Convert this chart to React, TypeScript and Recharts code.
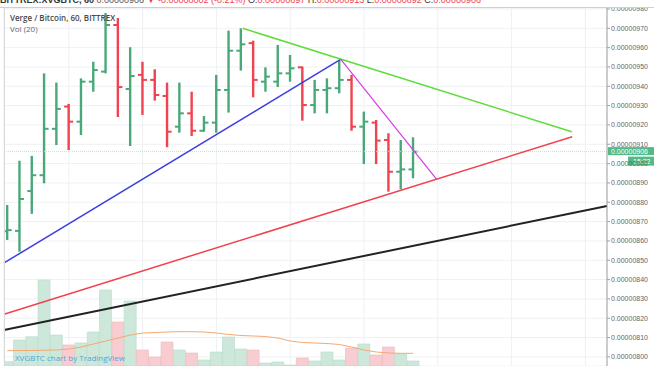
import React from 'react';
import {
  ComposedChart,
  Bar,
  Line,
  XAxis,
  YAxis,
  CartesianGrid,
  ReferenceLine,
  Cell,
} from 'recharts';

// hourly bars, prices in satoshi (1e-8 BTC)
const opens = [
  865.0, 865.2, 885.8, 894.0, 918.0, 929.5, 921.7, 942.4, 947.6, 971.7, 938.6, 945.9,
  943.3, 935.0, 919.1, 926.0, 917.0, 921.2, 938.1, 958.4, 962.3, 942.4, 942.4, 946.7,
  949.8, 930.3, 938.1, 939.0, 943.3, 919.1, 921.2, 912.2, 895.8, 897.0,
];
const highs = [
  878.6, 901.5, 904.0, 946.7, 941.9, 930.9, 944.1, 952.7, 977.9, 975.3, 960.2, 952.7,
  948.8, 941.9, 941.9, 937.2, 924.6, 945.9, 968.8, 970.0, 963.6, 949.8, 961.4, 956.2,
  950.2, 943.3, 944.1, 953.6, 945.9, 926.9, 922.6, 915.7, 912.2, 913.6,
];
const lows = [
  860.5, 854.4, 874.0, 889.8, 909.6, 907.0, 914.8, 937.2, 946.7, 924.1, 909.1, 925.2,
  932.6, 908.5, 916.0, 914.3, 916.5, 916.0, 926.4, 948.1, 934.3, 937.2, 939.6, 942.4,
  922.2, 926.0, 926.0, 936.4, 917.0, 899.8, 899.8, 885.5, 886.7, 892.4,
];
const closes = [
  865.6, 881.7, 894.0, 918.0, 928.3, 921.7, 942.4, 948.4, 971.7, 939.6, 945.3, 943.3,
  935.5, 916.5, 926.0, 917.0, 921.2, 938.1, 958.4, 961.7, 943.3, 945.0, 946.7, 949.3,
  930.3, 938.1, 939.0, 943.3, 919.1, 921.7, 911.9, 895.8, 897.0, 906.2,
];
// volume (relative units) and its 20-period average
const volumes = [
  4.3, 26, 29.3, 86, 31, 21, 23, 34, 76, 44, 65, 16, 9, 24, 16, 13, 6, 14, 29, 17, 16,
  3, 4, 1, 8, 5, 14, 6, 18, 22, 11, 19, 12, 5,
];
const volumeMa = [
  15.3, 15.5, 15.5, 15.8, 16, 17, 19, 22, 25, 28, 31, 33, 33.5, 34, 34.3, 34.3, 34, 33,
  31.5, 30.5, 30, 29.5, 28, 25, 23.5, 23, 22.5, 21.5, 19, 16, 14, 13, 12.7, 12.7,
];

const priceTicks = [800, 810, 820, 830, 840, 850, 860, 870, 880, 890, 900, 910, 920, 930, 940, 950, 960, 970, 980];
const hourTicks = [5, 11, 17, 23, 29, 35, 41, 47];
const lastPrice = 906.2;
const lastTime = '15:22';

// drawn trend lines: [bar index, price] pairs
const blueLine = [[-0.27, 848.6], [27.13, 954]];
const greenLine = [[19.14, 970], [45.89, 916.5]];
const magentaLine = [[27.1, 954], [34.91, 891.9]];
const redLine = [[-0.27, 822.1], [45.93, 913.9]];
const blackLine = [[-0.27, 813.9], [48.76, 878.1]];

const UP = '#4aa878';
const DOWN = '#f0424f';
const UP_VOL = '#cde8da';
const DOWN_VOL = '#f8cdd1';

const data = opens.map((o, i) => ({
  i,
  range: [lows[i], highs[i]],
  open: o,
  high: highs[i],
  low: lows[i],
  close: closes[i],
  vol: volumes[i],
  volMa: volumeMa[i],
}));

const fmt = (v: number) => (v / 1e8).toFixed(8);

const OhlcShape = (props: any) => {
  const { x, y, width, height, payload } = props;
  if (x == null || y == null || !payload) return null;
  const top = Math.min(y, y + height);
  const h = Math.abs(height);
  const span = payload.high - payload.low || 1;
  const yAt = (v: number) => top + ((payload.high - v) / span) * h;
  const cx = x + width / 2;
  const color = payload.close >= payload.open ? UP : DOWN;
  return (
    <g stroke={color}>
      <line x1={cx} x2={cx} y1={top} y2={top + h} strokeWidth={2.4} />
      <line x1={cx - 4.5} x2={cx} y1={yAt(payload.open)} y2={yAt(payload.open)} strokeWidth={2} />
      <line x1={cx} x2={cx + 4.5} y1={yAt(payload.close)} y2={yAt(payload.close)} strokeWidth={2} />
    </g>
  );
};

const PriceTag = (props: any) => {
  const vb = props.viewBox;
  if (!vb) return null;
  const ax = vb.x + vb.width;
  return (
    <g>
      <rect x={ax + 1} y={vb.y - 4.5} width={46} height={8} fill="#53b987" />
      <text x={ax + 4} y={vb.y + 2.3} fontSize={7} fill="#fff" fontFamily="Liberation Sans, Arial, sans-serif">
        {fmt(lastPrice)}
      </text>
      <rect x={ax + 21} y={vb.y + 5} width={26} height={9} fill="#53b987" />
      <text x={ax + 26} y={vb.y + 12} fontSize={7} fill="#fff" fontFamily="Liberation Sans, Arial, sans-serif">
        {lastTime}
      </text>
    </g>
  );
};

const seg = (pts: number[][]) => pts.map(([x, y]) => ({ x, y }));

export default function App() {
  return (
    <div
      style={{
        position: 'fixed',
        left: 0,
        top: 0,
        width: 654,
        height: 366,
        background: '#fff',
        overflow: 'hidden',
        fontFamily: '"Open Sans", "Noto Sans", sans-serif',
      }}
    >
      <ComposedChart
        width={654}
        height={366}
        data={data}
        margin={{ top: 8, right: 0, bottom: 0, left: 4 }}
      >
        <CartesianGrid xAxisId="p" yAxisId="p" stroke="#eef1f4" />
        <XAxis xAxisId="p" type="number" dataKey="i" domain={[-0.27, 48.76]} ticks={hourTicks} allowDataOverflow hide />
        <XAxis xAxisId="v" type="number" dataKey="i" domain={[-0.27, 48.76]} allowDataOverflow hide />
        <YAxis
          yAxisId="p"
          orientation="right"
          width={47}
          domain={[795.3, 980.5]}
          ticks={priceTicks}
          allowDataOverflow
          interval={0}
          tickFormatter={fmt}
          tick={{ fontSize: 7, fill: '#666', fontFamily: 'Liberation Sans, Arial, sans-serif' }}
          tickSize={3}
          tickMargin={1}
          axisLine={{ stroke: '#a0a0a0' }}
          tickLine={{ stroke: '#a0a0a0' }}
        />
        <YAxis yAxisId="v" domain={[0, 358]} hide />
        <Bar xAxisId="v" yAxisId="v" dataKey="vol" barSize={12} isAnimationActive={false}>
          {data.map((d) => (
            <Cell
              key={d.i}
              fill={d.close >= d.open ? UP_VOL : DOWN_VOL}
              stroke={d.close >= d.open ? '#b5dcc8' : '#f0b5bb'}
              strokeWidth={0.6}
            />
          ))}
        </Bar>
        <Line
          xAxisId="v"
          yAxisId="v"
          dataKey="volMa"
          stroke="#f5a872"
          strokeWidth={1}
          dot={false}
          isAnimationActive={false}
        />
        <ReferenceLine
          xAxisId="p"
          yAxisId="p"
          y={lastPrice}
          stroke="#bfe2d0"
          strokeDasharray="1 1"
          label={<PriceTag />}
        />
        <Bar xAxisId="p" yAxisId="p" dataKey="range" barSize={10} shape={<OhlcShape />} isAnimationActive={false} />
        <ReferenceLine xAxisId="p" yAxisId="p" segment={seg(blueLine)} stroke="#3d3de2" strokeWidth={1.5} ifOverflow="visible" />
        <ReferenceLine xAxisId="p" yAxisId="p" segment={seg(greenLine)} stroke="#5fdc3c" strokeWidth={1.5} ifOverflow="visible" />
        <ReferenceLine xAxisId="p" yAxisId="p" segment={seg(magentaLine)} stroke="#d83ae8" strokeWidth={1.2} ifOverflow="visible" />
        <ReferenceLine xAxisId="p" yAxisId="p" segment={seg(redLine)} stroke="#f0424f" strokeWidth={1.5} ifOverflow="visible" />
        <ReferenceLine xAxisId="p" yAxisId="p" segment={seg(blackLine)} stroke="#222" strokeWidth={2} ifOverflow="visible" />
      </ComposedChart>

      <div
        style={{
          position: 'absolute',
          left: 0,
          top: 0,
          width: 654,
          height: 7,
          background: '#fff',
          borderBottom: '1px solid #cfcfcf',
          overflow: 'hidden',
          whiteSpace: 'nowrap',
          fontSize: 9,
          lineHeight: '9px',
          fontFamily: 'Liberation Sans, Arial, sans-serif',
        }}
      >
        <div style={{ position: 'relative', top: -4 }}>
          <b style={{ color: '#333' }}>BITTREX:XVGBTC, 60</b>{' '}
          <span style={{ color: '#555' }}>0.00000906</span>{' '}
          <span style={{ color: DOWN }}>▼ -0.00000002 (-0.21%)</span>{' '}
          <span style={{ color: '#333' }}>O:</span><span style={{ color: DOWN }}>0.00000897</span>{' '}
          <span style={{ color: '#333' }}>H:</span><span style={{ color: DOWN }}>0.00000913</span>{' '}
          <span style={{ color: '#333' }}>L:</span><span style={{ color: DOWN }}>0.00000892</span>{' '}
          <span style={{ color: '#333' }}>C:</span><span style={{ color: DOWN }}>0.00000906</span>
        </div>
      </div>
      <div style={{ position: 'absolute', left: 4, top: 8, width: 1, height: 358, background: '#d8d8d8' }} />
      <div style={{ position: 'absolute', left: 10, top: 12, fontSize: 8, color: '#4a4a4a', fontWeight: 600 }}>
        Verge / Bitcoin, 60, BITTREX
      </div>
      <div style={{ position: 'absolute', left: 10, top: 23, fontSize: 8, color: '#666' }}>Vol (20)</div>
      <div style={{ position: 'absolute', left: 15, top: 352, fontSize: 8, color: '#4fa6dc' }}>
        XVGBTC chart by TradingView
      </div>
    </div>
  );
}
